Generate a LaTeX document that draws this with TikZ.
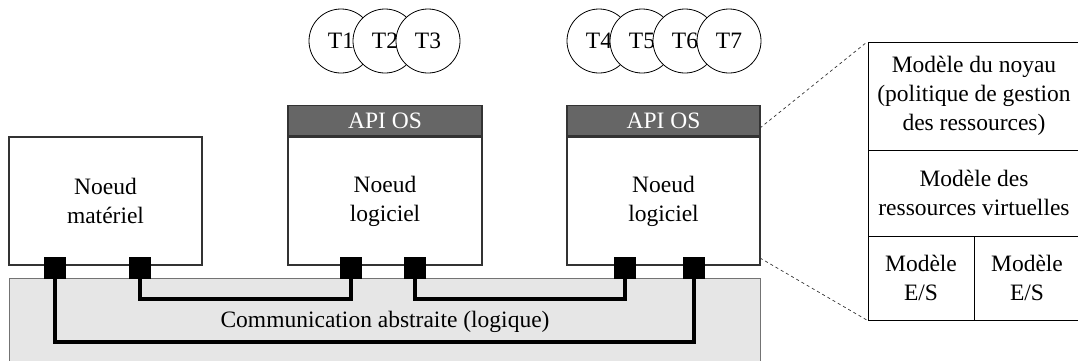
\documentclass[tikz,border=0pt]{standalone}
\usepackage{fontspec}
\setmainfont{Liberation Serif}
\definecolor{hdr}{HTML}{666666}
\definecolor{commfill}{HTML}{E6E6E6}
\begin{document}
\begin{tikzpicture}[x=1pt,y=-1pt,
  font=\fontsize{23.5}{29}\selectfont,
  nodebox/.style={draw=black!80, line width=1.2pt, fill=white, inner sep=0pt, align=center},
  apihdr/.style={draw=black!80, line width=1.2pt, fill=hdr, text=white, inner sep=0pt, minimum width=194pt, minimum height=30pt, anchor=south west},
  commbox/.style={draw=black!55, line width=1.2pt, fill=commfill, inner sep=0pt, anchor=north west, minimum width=751pt, minimum height=95pt},
  port/.style={fill=black, draw=none, minimum size=22pt, inner sep=0pt},
  link/.style={line width=4.5pt, line join=miter},
  task/.style={circle, draw=black, line width=0.8pt, fill=white, minimum size=64pt, inner sep=0pt},
  cell/.style={draw=black, line width=0.9pt, inner sep=0pt, align=center},
  zoomline/.style={draw=black!80, line width=0.7pt, dash pattern=on 3pt off 3pt}
]
\useasboundingbox (0,0) rectangle (1078,360);

% communication layer
\node[commbox] (comm) at (9,278) {};
\node (commtxt) at (385,322) {Communication abstraite (logique)};

% nodes
\node[nodebox, minimum width=193pt, minimum height=128pt] (hw) at (105.5,201) {Noeud\\matériel};
\node[nodebox, minimum width=194pt, minimum height=128pt] (sw1) at (385,201) {Noeud\\logiciel};
\node[nodebox, minimum width=193pt, minimum height=128pt] (sw2) at (663.5,201) {Noeud\\logiciel};
\node[apihdr] (api1) at (sw1.north west) {API OS};
\node[apihdr, minimum width=193pt] (api2) at (sw2.north west) {API OS};

% ports
\node[port] (p1) at (55,268) {};
\node[port] (p2) at (140,268) {};
\node[port] (p3) at (351,268) {};
\node[port] (p4) at (415,268) {};
\node[port] (p5) at (625,268) {};
\node[port] (p6) at (694,268) {};

% links
\draw[link] (p2.south) -- ++(0,20) -| (p3.south);
\draw[link] (p4.south) -- ++(0,20) -| (p5.south);
\draw[link] (p1.south) -- ++(0,63) -| (p6.south);
\node[port] at (p1) {};
\node[port] at (p2) {};
\node[port] at (p3) {};
\node[port] at (p4) {};
\node[port] at (p5) {};
\node[port] at (p6) {};

% tasks
\node[task] (t1) at (341,41) {T1};
\node[task] (t2) at (385,41) {T2};
\node[task] (t3) at (428,41) {T3};
\node[task] (t4) at (599,41) {T4};
\node[task] (t5) at (642,41) {T5};
\node[task] (t6) at (685,41) {T6};
\node[task] (t7) at (729,41) {T7};

% detail panel
\node[cell, minimum width=212pt, minimum height=108pt] (kern) at (974,96) {Modèle du noyau\\(politique de gestion\\des ressources)};
\node[cell, minimum width=212pt, minimum height=86pt] (virt) at (974,193) {Modèle des\\ressources virtuelles};
\node[cell, minimum width=106pt, minimum height=84pt] (io1) at (921,278) {Modèle\\E/S};
\node[cell, minimum width=106pt, minimum height=84pt] (io2) at (1027,278) {Modèle\\E/S};

% zoom lines
\coordinate (z1) at (760,128);
\coordinate (z2) at (760,258);
\draw[zoomline] (z1) -- (kern.north west);
\draw[zoomline] (z2) -- (io1.south west);
\end{tikzpicture}
\end{document}
